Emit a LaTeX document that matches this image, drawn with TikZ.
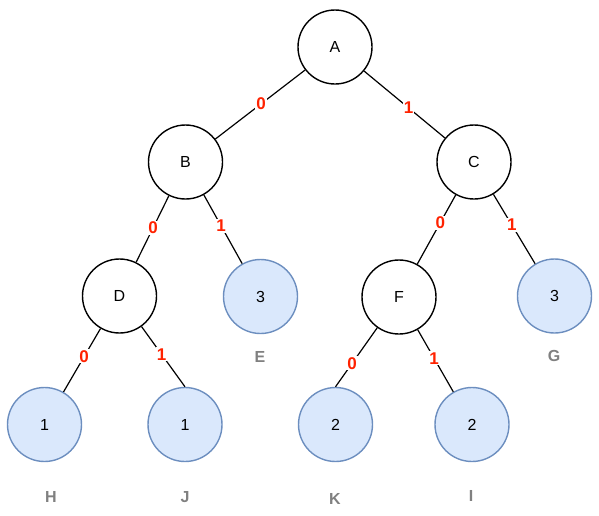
\documentclass[tikz,border=0pt]{standalone}
\usepackage{fontspec}
\setmainfont{Liberation Sans}
\usetikzlibrary{positioning}

\definecolor{leafFill}{HTML}{DAE8FC}
\definecolor{leafLine}{HTML}{6C8EBF}
\definecolor{bitRed}{HTML}{FF2200}
\definecolor{tagGray}{HTML}{808080}

\begin{document}
\begin{tikzpicture}[x=1pt,y=-1pt,
    inner/.style={circle, draw=black, fill=white, line width=1.4pt,
      minimum size=74pt, inner sep=0pt, font=\fontsize{16}{18}\selectfont},
    leaf/.style={inner, draw=leafLine, fill=leafFill},
    bit/.style={fill=white, inner sep=1pt, text=bitRed,
      font=\fontsize{17}{19}\selectfont\bfseries},
    tag/.style={text=tagGray, font=\fontsize{16}{18}\selectfont\bfseries},
    edge/.style={draw=black, line width=1.2pt}]
  \useasboundingbox (0,0) rectangle (599,515);

  % Inner nodes
  \node[inner] (A) at (335,47)    {A};
  \node[inner] (B) at (185.5,162) {B};
  \node[inner] (C) at (474,162)   {C};
  \node[inner] (D) at (119.5,296) {D};
  \node[inner] (F) at (399,297)   {F};

  % Leaves (with counts)
  \node[leaf] (E) at (260.5,296.5) {3};
  \node[leaf] (G) at (554.5,296)   {3};
  \node[leaf] (H) at (44.5,424.5)  {1};
  \node[leaf] (J) at (185,424.5)   {1};
  \node[leaf] (K) at (335.5,424.5) {2};
  \node[leaf] (I) at (472,424.5)   {2};

  % Leaf names
  \node[tag] (Etag) at (260,357) {E};
  \node[tag] (Gtag) at (554,356) {G};
  \node[tag] (Htag) at (51,497)  {H};
  \node[tag] (Jtag) at (185,497) {J};
  \node[tag] (Ktag) at (335,499) {K};
  \node[tag] (Itag) at (471,496) {I};

  % Edges with bits
  \draw[edge] (A) -- node[bit, pos=0.49] {0} (B);
  \draw[edge] (A) -- node[bit, pos=0.55] {1} (C);
  \draw[edge] (B) -- node[bit, pos=0.48] {0} (D);
  \draw[edge] (B) -- node[bit, pos=0.45] {1} (E);
  \draw[edge] (C) -- node[bit, pos=0.40] {0} (F);
  \draw[edge] (C) -- node[bit, pos=0.44] {1} (G);
  \draw[edge] (D) -- node[bit, pos=0.44] {0} (H);
  \draw[edge] (D) -- node[bit, pos=0.46] {1} (J.north);
  \draw[edge] (F) -- node[bit, pos=0.60] {0} (K.north);
  \draw[edge] (F) -- node[bit, pos=0.46] {1} (I);
\end{tikzpicture}
\end{document}
